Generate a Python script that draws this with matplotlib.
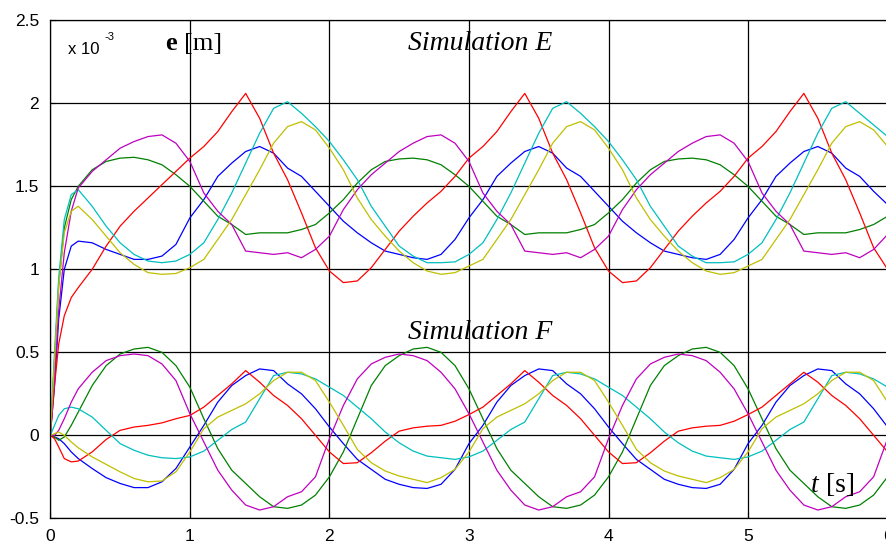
import matplotlib
matplotlib.use("Agg")
import matplotlib.pyplot as plt

# time axis [s]: dense points during the start-up, then every 0.1 s
t = [0, 0.03, 0.06, 0.1, 0.15] + [round(0.1 * k, 1) for k in range(2, 61)]

# error e [m] (x 1e-3)
# rows: start-up 0..0.9 / 1.0..3.0 / 3.1..5.0 / 5.1..6.0
red_E = [0, 0.30, 0.55, 0.72, 0.83, 0.89, 1.00, 1.14, 1.26, 1.35, 1.43, 1.51, 1.59,
         1.67, 1.74, 1.83, 1.95, 2.06, 1.91, 1.70, 1.54, 1.34, 1.13, 0.99, 0.92, 0.93, 1.01, 1.12, 1.23, 1.32, 1.40, 1.47, 1.56, 1.67,
         1.74, 1.83, 1.95, 2.06, 1.91, 1.70, 1.54, 1.34, 1.13, 0.99, 0.92, 0.93, 1.01, 1.12, 1.23, 1.32, 1.40, 1.47, 1.56, 1.67,
         1.74, 1.83, 1.95, 2.06, 1.91, 1.70, 1.54, 1.34, 1.13, 1.00]
cyan_E = [0, 0.50, 0.95, 1.30, 1.45, 1.48, 1.38, 1.26, 1.16, 1.09, 1.05, 1.04, 1.05,
          1.09, 1.16, 1.30, 1.46, 1.64, 1.82, 1.97, 2.01, 1.94, 1.86, 1.77, 1.66, 1.54, 1.38, 1.26, 1.14, 1.08, 1.04, 1.04, 1.045, 1.09,
          1.16, 1.30, 1.46, 1.64, 1.82, 1.97, 2.01, 1.94, 1.86, 1.77, 1.66, 1.54, 1.38, 1.26, 1.14, 1.08, 1.04, 1.04, 1.045, 1.09,
          1.16, 1.30, 1.46, 1.64, 1.82, 1.97, 2.01, 1.94, 1.87, 1.80]
yellow_E = [0, 0.45, 0.90, 1.22, 1.35, 1.38, 1.30, 1.20, 1.10, 1.03, 0.98, 0.97, 0.975,
            1.01, 1.06, 1.18, 1.30, 1.45, 1.60, 1.76, 1.86, 1.89, 1.84, 1.73, 1.60, 1.43, 1.30, 1.20, 1.11, 1.04, 0.99, 0.97, 0.98, 1.02,
            1.06, 1.18, 1.30, 1.45, 1.60, 1.76, 1.86, 1.89, 1.84, 1.73, 1.60, 1.43, 1.30, 1.20, 1.11, 1.04, 0.99, 0.97, 0.98, 1.02,
            1.06, 1.18, 1.30, 1.45, 1.60, 1.76, 1.86, 1.89, 1.84, 1.74]
blue_E = [0, 0.30, 0.70, 1.00, 1.14, 1.17, 1.16, 1.12, 1.09, 1.06, 1.06, 1.08, 1.15,
          1.31, 1.42, 1.56, 1.64, 1.71, 1.74, 1.70, 1.61, 1.56, 1.47, 1.38, 1.29, 1.22, 1.16, 1.11, 1.09, 1.07, 1.06, 1.09, 1.18, 1.31,
          1.42, 1.56, 1.64, 1.71, 1.74, 1.70, 1.61, 1.56, 1.47, 1.38, 1.29, 1.22, 1.16, 1.11, 1.09, 1.07, 1.06, 1.09, 1.18, 1.31,
          1.42, 1.56, 1.64, 1.71, 1.74, 1.70, 1.61, 1.56, 1.47, 1.39]
green_E = [0, 0.45, 0.90, 1.25, 1.42, 1.50, 1.60, 1.65, 1.67, 1.675, 1.66, 1.63, 1.57,
           1.50, 1.41, 1.32, 1.27, 1.21, 1.22, 1.22, 1.22, 1.24, 1.27, 1.34, 1.42, 1.52, 1.60, 1.65, 1.665, 1.67, 1.66, 1.63, 1.57, 1.50,
           1.41, 1.32, 1.27, 1.21, 1.22, 1.22, 1.22, 1.24, 1.27, 1.34, 1.42, 1.52, 1.60, 1.65, 1.665, 1.67, 1.66, 1.63, 1.57, 1.50,
           1.41, 1.32, 1.27, 1.21, 1.22, 1.22, 1.22, 1.24, 1.27, 1.32]
magenta_E = [0, 0.35, 0.75, 1.10, 1.35, 1.49, 1.59, 1.66, 1.73, 1.77, 1.80, 1.81, 1.76,
             1.65, 1.46, 1.35, 1.27, 1.11, 1.10, 1.09, 1.10, 1.07, 1.12, 1.20, 1.36, 1.48, 1.57, 1.64, 1.71, 1.76, 1.80, 1.81, 1.76, 1.65,
             1.46, 1.35, 1.27, 1.11, 1.10, 1.09, 1.10, 1.07, 1.12, 1.20, 1.36, 1.48, 1.57, 1.64, 1.71, 1.76, 1.80, 1.81, 1.76, 1.65,
             1.46, 1.35, 1.27, 1.11, 1.10, 1.09, 1.10, 1.07, 1.12, 1.21]

red_F = [0, -0.02, -0.07, -0.14, -0.16, -0.155, -0.10, -0.025, 0.03, 0.05, 0.06, 0.075, 0.10,
         0.12, 0.17, 0.24, 0.31, 0.39, 0.32, 0.24, 0.18, 0.10, 0.0, -0.10, -0.17, -0.165, -0.105, -0.035, 0.025, 0.045, 0.055, 0.06, 0.085, 0.125,
         0.17, 0.24, 0.31, 0.39, 0.32, 0.24, 0.18, 0.10, 0.0, -0.10, -0.17, -0.165, -0.105, -0.035, 0.025, 0.045, 0.055, 0.06, 0.085, 0.125,
         0.17, 0.24, 0.31, 0.38, 0.32, 0.24, 0.18, 0.10, 0.0, -0.10]
cyan_F = [0, 0.06, 0.12, 0.16, 0.17, 0.16, 0.11, 0.03, -0.05, -0.09, -0.12, -0.135, -0.14,
          -0.13, -0.095, -0.03, 0.035, 0.08, 0.22, 0.36, 0.38, 0.37, 0.34, 0.29, 0.24, 0.17, 0.10, 0.02, -0.045, -0.095, -0.125, -0.135, -0.145, -0.13,
          -0.095, -0.03, 0.035, 0.08, 0.22, 0.36, 0.38, 0.37, 0.34, 0.29, 0.24, 0.17, 0.10, 0.02, -0.045, -0.095, -0.125, -0.135, -0.145, -0.13,
          -0.095, -0.03, 0.035, 0.08, 0.22, 0.36, 0.38, 0.37, 0.34, 0.29]
yellow_F = [0, 0.01, 0.02, 0.0, -0.04, -0.075, -0.13, -0.175, -0.22, -0.26, -0.28, -0.275, -0.22,
            -0.10, 0.04, 0.11, 0.15, 0.19, 0.25, 0.33, 0.38, 0.38, 0.33, 0.20, 0.06, -0.085, -0.165, -0.215, -0.245, -0.265, -0.285, -0.255, -0.205, -0.10,
            0.04, 0.11, 0.15, 0.19, 0.25, 0.33, 0.38, 0.38, 0.33, 0.20, 0.06, -0.085, -0.165, -0.215, -0.245, -0.265, -0.285, -0.255, -0.205, -0.10,
            0.04, 0.11, 0.15, 0.19, 0.25, 0.33, 0.38, 0.38, 0.33, 0.20]
blue_F = [0, -0.01, -0.02, -0.05, -0.10, -0.14, -0.20, -0.255, -0.29, -0.315, -0.315, -0.28, -0.20,
          -0.07, 0.06, 0.20, 0.30, 0.36, 0.40, 0.39, 0.31, 0.25, 0.16, 0.05, -0.05, -0.145, -0.205, -0.265, -0.295, -0.315, -0.32, -0.295, -0.205, -0.05,
          0.06, 0.20, 0.30, 0.36, 0.40, 0.39, 0.31, 0.25, 0.16, 0.05, -0.05, -0.145, -0.205, -0.265, -0.295, -0.315, -0.32, -0.295, -0.205, -0.05,
          0.06, 0.20, 0.30, 0.36, 0.40, 0.39, 0.31, 0.25, 0.16, 0.05]
green_F = [0, -0.01, -0.03, -0.01, 0.06, 0.14, 0.30, 0.42, 0.49, 0.52, 0.53, 0.50, 0.42,
           0.29, 0.10, -0.08, -0.21, -0.29, -0.37, -0.43, -0.44, -0.42, -0.36, -0.25, -0.10, 0.10, 0.30, 0.42, 0.48, 0.52, 0.53, 0.50, 0.42, 0.28,
           0.10, -0.08, -0.21, -0.29, -0.37, -0.43, -0.44, -0.42, -0.36, -0.25, -0.10, 0.10, 0.30, 0.42, 0.48, 0.52, 0.53, 0.50, 0.42, 0.28,
           0.10, -0.08, -0.21, -0.29, -0.37, -0.43, -0.44, -0.42, -0.36, -0.25]
magenta_F = [0, 0.0, 0.03, 0.10, 0.20, 0.28, 0.38, 0.45, 0.48, 0.49, 0.48, 0.43, 0.33,
             0.13, -0.04, -0.21, -0.33, -0.42, -0.45, -0.43, -0.37, -0.34, -0.25, -0.02, 0.18, 0.34, 0.43, 0.47, 0.49, 0.48, 0.45, 0.38, 0.28, 0.13,
             -0.04, -0.21, -0.33, -0.42, -0.45, -0.43, -0.37, -0.34, -0.25, -0.02, 0.18, 0.34, 0.43, 0.47, 0.49, 0.48, 0.45, 0.38, 0.28, 0.13,
             -0.04, -0.21, -0.33, -0.42, -0.45, -0.43, -0.37, -0.34, -0.25, -0.02]

series = [
    (blue_E, (0, 0, 1)), (green_E, (0, 0.5, 0)), (red_E, (1, 0, 0)),
    (cyan_E, (0, 0.75, 0.75)), (magenta_E, (0.75, 0, 0.75)), (yellow_E, (0.75, 0.75, 0)),
    (blue_F, (0, 0, 1)), (green_F, (0, 0.5, 0)), (red_F, (1, 0, 0)),
    (cyan_F, (0, 0.75, 0.75)), (magenta_F, (0.75, 0, 0.75)), (yellow_F, (0.75, 0.75, 0)),
]

xticks = [0, 1, 2, 3, 4, 5, 6]
yticks = [-0.5, 0, 0.5, 1, 1.5, 2, 2.5]
ytick_labels = ["-0.5", "0", "0.5", "1", "1.5", "2", "2.5"]

fig = plt.figure(figsize=(8.86, 5.46), dpi=100)
ax = fig.add_axes([0.0568, 0.0507, 0.945, 0.912])

for y, c in series:
    ax.plot(t, y, color=c, lw=0.9)

ax.set_xlim(0, 6)
ax.set_ylim(-0.5, 2.5)
ax.set_xticks(xticks)
ax.set_yticks(yticks)
ax.set_yticklabels(ytick_labels)
ax.grid(True, color="black", lw=0.9, ls="-")
ax.tick_params(direction="in", length=4, labelsize=12.5, colors="black", pad=8)
for lbl in ax.get_xticklabels() + ax.get_yticklabels():
    lbl.set_family("Liberation Sans")
for s in ax.spines.values():
    s.set_linewidth(0.9)

serif = "Liberation Serif"
ax.text(0.13, 2.30, "x 10", family="Liberation Sans", fontsize=12, va="baseline")
ax.text(0.385, 2.38, "-3", family="Liberation Sans", fontsize=8, va="baseline")
ax.text(0.82, 2.32, "e", family=serif, fontweight="bold", fontsize=19, va="baseline")
ax.text(0.955, 2.32, "[m]", family=serif, fontsize=19, va="baseline")
ax.text(2.56, 2.32, "Simulation E", family=serif, style="italic", fontsize=20, va="baseline")
ax.text(2.56, 0.58, "Simulation F", family=serif, style="italic", fontsize=20, va="baseline")
ax.text(5.45, -0.34, "t", family=serif, style="italic", fontsize=20, va="baseline")
ax.text(5.56, -0.34, "[s]", family=serif, fontsize=20, va="baseline")

fig.savefig("out.png", dpi=100)
